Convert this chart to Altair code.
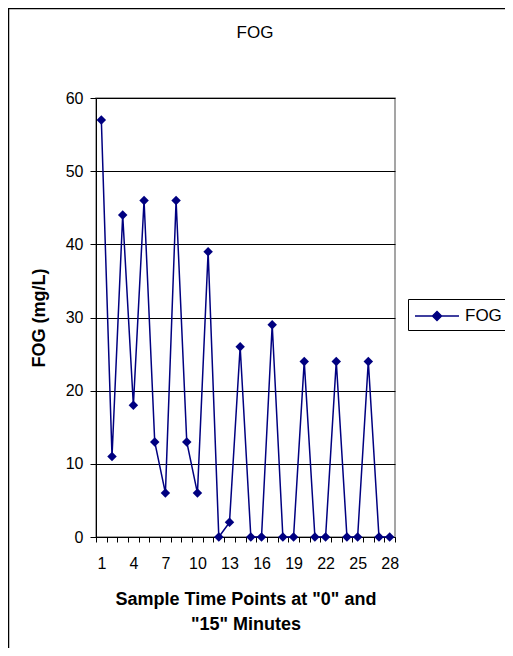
import altair as alt
import pandas as pd

# --- data ---
sample_points = list(range(1, 29))
fog_values = [57, 11, 44, 18, 46, 13, 6, 46, 13, 6, 39, 0, 2, 26, 0, 0, 29, 0, 0, 24,
              0, 0, 24, 0, 0, 24, 0, 0]
series_name = "FOG"
chart_title = "FOG"
y_ticks = [0, 10, 20, 30, 40, 50, 60]
x_label_points = [1, 4, 7, 10, 13, 16, 19, 22, 25, 28]

df = pd.DataFrame({"t": sample_points, "fog": fog_values, "series": series_name})

FONT = "Liberation Sans"
NAVY = "#000080"
W, H = 299, 439
band = W / len(sample_points)

boundaries = [i + 0.5 for i in range(len(sample_points) + 1)]
lbl_expr = "indexof([" + ",".join(str(v) for v in x_label_points) + "], datum.value - 0.5) >= 0 ? format(datum.value - 0.5, 'd') : ''"

x_enc = alt.X(
    "t:Q",
    scale=alt.Scale(domain=[0.5, 28.5], nice=False, zero=False),
    axis=alt.Axis(
        values=boundaries,
        labelExpr=lbl_expr,
        labelOffset=-band / 2,
        labelFlush=False,
        labelOverlap=False,
        labelBound=False,
        grid=False,
        tickSize=5,
        tickColor="black",
        domainColor="black",
        labelPadding=13,
        labelFontSize=16,
        labelColor="black",
        labelFont=FONT,
        title=['Sample Time Points at "0" and', '"15" Minutes'],
        titleFontSize=18,
        titleFontWeight="bold",
        titleFont=FONT,
        titleColor="black",
        titleLineHeight=25,
        titlePadding=19,
    ),
)
y_enc = alt.Y(
    "fog:Q",
    scale=alt.Scale(domain=[0, 60], nice=False),
    axis=alt.Axis(
        values=y_ticks,
        grid=True,
        gridColor="black",
        gridWidth=1,
        tickSize=6,
        tickColor="black",
        domainColor="black",
        labelPadding=7,
        labelFontSize=16,
        labelColor="black",
        labelFont=FONT,
        title="FOG (mg/L)",
        titleFontSize=18,
        titleFontWeight="bold",
        titleFont=FONT,
        titleColor="black",
        titlePadding=17,
    ),
)
color_enc = alt.Color(
    "series:N",
    scale=alt.Scale(domain=[series_name], range=[NAVY]),
    legend=alt.Legend(
        title=None,
        orient="none",
        legendX=312,
        legendY=201,
        strokeColor="black",
        fillColor="white",
        padding=6,
        symbolType="M-1,0H3.4M1.2,-0.45L1.65,0L1.2,0.45L0.75,0Z",
        symbolSize=400,
        symbolStrokeWidth=1.5,
        symbolStrokeColor=NAVY,
        symbolFillColor=NAVY,
        labelFontSize=17,
        labelFont=FONT,
        labelColor="black",
        labelOffset=29,
    ),
)

base = alt.Chart(df).encode(x=x_enc, y=y_enc, color=color_enc)
line = base.mark_line(strokeWidth=1.5)
pts = base.mark_point(shape="diamond", filled=True, size=90, opacity=1)

border = alt.Chart(alt.Data(values=[{}])).mark_rect(
    fill="transparent", stroke="black", strokeWidth=1.5
).encode(
    x=alt.value(-87.5), x2=alt.value(600), y=alt.value(-89.5), y2=alt.value(700)
)

title_txt = alt.Chart(alt.Data(values=[{"label": chart_title}])).mark_text(
    font=FONT, fontSize=17, color="black", align="center", baseline="middle"
).encode(x=alt.value(159), y=alt.value(-65.5), text="label:N")

chart = (
    alt.layer(border, line, pts, title_txt)
    .properties(
        width=W,
        height=H,
        autosize=alt.AutoSizeParams(type="none"),
        padding={"left": 88, "top": 90, "right": 110, "bottom": 111},
        background="white",
    )
    .configure_view(stroke="#888888", strokeWidth=1.5)
)

chart.save("out.html", embed_options={"renderer": "svg", "actions": False})
